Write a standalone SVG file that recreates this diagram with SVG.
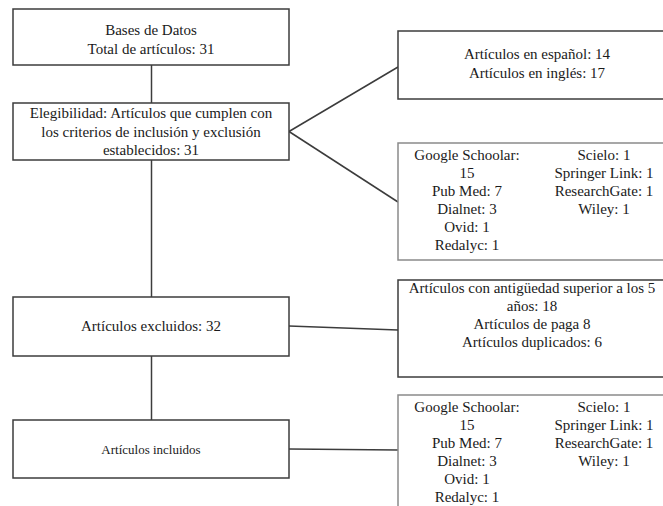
<svg xmlns="http://www.w3.org/2000/svg" width="663" height="506" viewBox="0 0 663 506">
<style>
.box{fill:#fff;stroke:#3c3c3c;stroke-width:1.5}
.gbox{fill:#fff;stroke:#8a8a8a;stroke-width:1.5}
.ln{stroke:#3c3c3c;stroke-width:1.5;fill:none}
text{font-family:"Liberation Serif","Times New Roman",serif;font-size:15px;fill:#1a1a1a;text-anchor:middle}
.sm{font-size:13px}
</style>
<rect width="663" height="506" fill="#fff"/>
<g id="connectors">
<line class="ln" x1="151.5" y1="65" x2="151.5" y2="103"/>
<line class="ln" x1="151.5" y1="160" x2="151.5" y2="297"/>
<line class="ln" x1="151.5" y1="356" x2="151.5" y2="420"/>
<line class="ln" x1="289" y1="131.5" x2="398" y2="67"/>
<line class="ln" x1="289" y1="131.5" x2="398" y2="202"/>
<line class="ln" x1="289" y1="326" x2="398" y2="330"/>
<line class="ln" x1="289" y1="449" x2="398" y2="450"/>
</g>
<g id="bases">
<rect class="box" x="13" y="9" width="276" height="56"/>
<text x="151" y="35">Bases de Datos</text>
<text x="151" y="54">Total de artículos: 31</text>
</g>
<g id="elegibilidad">
<rect class="box" x="13" y="103" width="276" height="57"/>
<text x="151" y="118">Elegibilidad: Artículos que cumplen con</text>
<text x="151" y="137">los criterios de inclusión y exclusión</text>
<text x="151" y="155">establecidos: 31</text>
</g>
<g id="idiomas">
<rect class="box" x="398" y="31" width="290" height="68"/>
<text x="537" y="59">Artículos en español: 14</text>
<text x="537" y="78">Artículos en inglés: 17</text>
</g>
<g id="fuentes1">
<rect class="gbox" x="398" y="143" width="290" height="117"/>
<text x="467" y="160">Google Schoolar:</text>
<text x="467" y="178">15</text>
<text x="467" y="196">Pub Med: 7</text>
<text x="467" y="214">Dialnet: 3</text>
<text x="467" y="232">Ovid: 1</text>
<text x="467" y="250">Redalyc: 1</text>
<text x="604" y="160">Scielo: 1</text>
<text x="604" y="178">Springer Link: 1</text>
<text x="604" y="196">ResearchGate: 1</text>
<text x="604" y="214">Wiley: 1</text>
</g>
<g id="excluidos">
<rect class="box" x="13" y="297" width="276" height="59"/>
<text x="151" y="331">Artículos excluidos: 32</text>
</g>
<g id="motivos">
<rect class="box" x="398" y="280" width="290" height="97"/>
<text x="532" y="293">Artículos con antigüedad superior a los 5</text>
<text x="532" y="311">años: 18</text>
<text x="532" y="329">Artículos de paga 8</text>
<text x="532" y="347">Artículos duplicados: 6</text>
</g>
<g id="incluidos">
<rect class="box" x="13" y="420" width="276" height="58"/>
<text class="sm" x="151" y="454">Artículos incluidos</text>
</g>
<g id="fuentes2">
<rect class="gbox" x="398" y="395" width="290" height="130"/>
<text x="467" y="412">Google Schoolar:</text>
<text x="467" y="430">15</text>
<text x="467" y="448">Pub Med: 7</text>
<text x="467" y="466">Dialnet: 3</text>
<text x="467" y="484">Ovid: 1</text>
<text x="467" y="502">Redalyc: 1</text>
<text x="604" y="412">Scielo: 1</text>
<text x="604" y="430">Springer Link: 1</text>
<text x="604" y="448">ResearchGate: 1</text>
<text x="604" y="466">Wiley: 1</text>
</g>
</svg>
